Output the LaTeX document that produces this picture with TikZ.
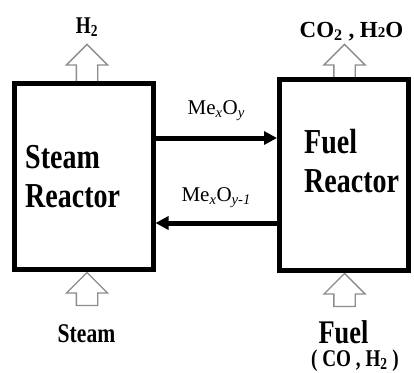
\documentclass[tikz,border=0pt]{standalone}
\usepackage{fontspec}
\setmainfont{Liberation Serif}
\newfontfamily\narrowfont[FakeStretch=0.8]{Liberation Serif}
\usetikzlibrary{positioning, arrows.meta, shapes.arrows, backgrounds}

\begin{document}
\begin{tikzpicture}[x=1pt,y=-1pt,node distance=121.5pt]
 \tikzstyle{reactorbox}=[rectangle,draw=black,line width=5pt,inner sep=0pt]
 \tikzstyle{reactortext}=[font=\narrowfont\bfseries\fontsize{35}{39}\selectfont,
   align=left,inner sep=0pt]
 \tikzstyle{streamtext}=[font=\narrowfont\bfseries\fontsize{24}{28}\selectfont,inner sep=0pt]
 \tikzstyle{oxidetext}=[font=\fontsize{21}{24}\selectfont,inner sep=0pt]
 \tikzstyle{hollow}=[single arrow,draw=gray!90,fill=white,line width=1.3pt,rotate=90,
   inner xsep=0pt,inner ysep=10pt,minimum width=0pt,
   single arrow head extend=10pt,single arrow tip angle=90]
 \tikzstyle{carrier}=[line width=5pt,-{Triangle[length=13pt,width=13pt]}]
 \useasboundingbox (0,0) rectangle (414,372);

 % the two reactors
 \node (steam) [reactorbox,minimum width=139pt,minimum height=186pt] at (83.5,176) {};
 \node (fuel) [reactorbox,minimum width=129pt,minimum height=191pt,
   right=of steam,yshift=1.5pt] {};
 \node (steamtext) [reactortext,anchor=base west] at (25,207) {Steam\\Reactor};
 \node (fueltext) [reactortext,anchor=base west] at (304,192) {Fuel\\Reactor};

 % oxygen carrier loop
 \draw[carrier] (steam.east |- 0,138) -- node[above=15pt,oxidetext] (oxlabel)
   {Me\textsubscript{\textit{x}}O\textsubscript{\textit{y}}} (fuel.west |- 0,138);
 \draw[carrier] (fuel.west |- 0,223) -- node[above=13pt,oxidetext] (redlabel)
   {Me\textsubscript{\textit{x}}O\textsubscript{\textit{y-1}}} (steam.east |- 0,223);

 % feeds and products
 \node (h2) [streamtext,anchor=base] at (87,33) {H\textsubscript{2}};
 \node (co2) [streamtext,font=\bfseries\fontsize{23}{27}\selectfont,anchor=base]
   at (351.5,37) {CO\textsubscript{2} , H{\fontsize{15}{15}\selectfont 2}O};
 \node (steamin) [streamtext,font=\narrowfont\bfseries\fontsize{27}{30}\selectfont,
   anchor=base] at (86.5,342) {Steam};
 \node (fuelin) [streamtext,font=\narrowfont\bfseries\fontsize{33}{36}\selectfont,
   text depth=0pt,anchor=base] at (343.5,343) {Fuel};
 \node (fuelgas) [streamtext,font=\narrowfont\bfseries\fontsize{24}{27}\selectfont,
   anchor=base] at (355,366) {( CO , H\textsubscript{2} )};

 \begin{scope}[on background layer]
  \node (h2out) [hollow,minimum height=38pt,anchor=tail]
    at ([xshift=3.5pt,yshift=-2.5pt]steam.north) {};
  \node (co2out) [hollow,minimum height=34pt,anchor=tail]
    at ([xshift=0.5pt,yshift=-2.5pt]fuel.north) {};
  \node (steamfeed) [hollow,minimum height=33pt,anchor=tip]
    at ([xshift=3.5pt]steam.south) {};
  \node (fuelfeed) [hollow,minimum height=33pt,anchor=tip]
    at ([xshift=0.5pt]fuel.south) {};
 \end{scope}
\end{tikzpicture}
\end{document}
